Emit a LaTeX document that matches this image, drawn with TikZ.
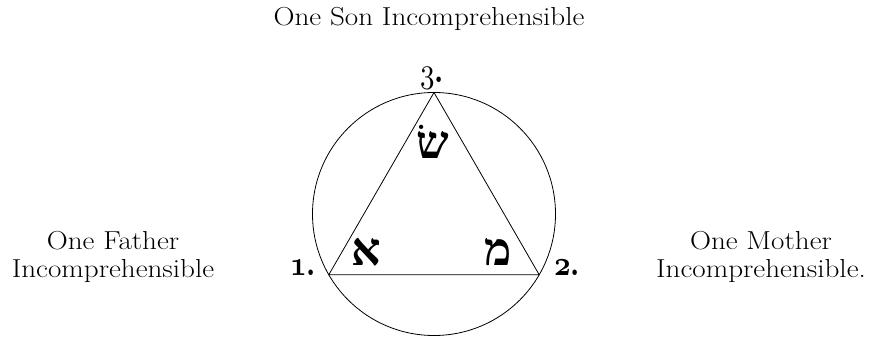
\documentclass[tikz,border=0pt]{standalone}
\usepackage{fontspec}
\usepackage{graphicx}
\newfontfamily\hebfont[Script=Hebrew]{Liberation Serif}
\TeXXeTstate=1
\newcommand{\wideline}[1]{\scalebox{1.12}[1]{#1}}
\newcommand{\osnum}[1]{\scalebox{2.9}[3.5]{{\usefont{OML}{cmm}{b}{it}#1}\textbf{.}}}
\newcommand{\osnumreg}[1]{\scalebox{2.9}[3.5]{{\usefont{OML}{cmm}{m}{it}#1}\textbf{.}}}
\begin{document}
\begin{tikzpicture}[x=1pt,y=-1pt,
  edge/.style={line width=0.8pt},
  caption/.style={font=\fontsize{26}{30}\selectfont, align=center, inner sep=0pt},
  num/.style={font=\fontsize{10}{10}\selectfont, inner sep=0pt},
  heb/.style={font=\fontsize{46}{46}\selectfont\hebfont\bfseries, inner sep=0pt}]
\useasboundingbox (0,0) rectangle (876,337);
\coordinate (c) at (434,214);
\coordinate (v3) at (434,92.5);
\coordinate (v1) at (328.8,274.75);
\coordinate (v2) at (539.2,274.75);
\draw[edge] (c) circle[radius=121.5];
\draw[edge] (v1) -- (v2) -- (v3) -- cycle;
\node[caption] (son) at (429,19) {\wideline{One Son Incomprehensible}};
\node[caption] (father) at (113,257) {\wideline{One Father}\\[-2pt]\wideline{Incomprehensible}};
\node[caption] (mother) at (761,257) {\wideline{One Mother}\\[-2pt]\wideline{Incomprehensible.}};
\node[num, anchor=base] (n3) at (432,82) {\osnumreg{3}};
\node[num, anchor=base] (n1) at (303,275) {\osnum{1}};
\node[num, anchor=base] (n2) at (567,275) {\osnum{2}};
\node[heb] (shin) at (433,142) {\beginR שׂ\endR};
\node[heb] (aleph) at (366,252) {\beginR א\endR};
\node[heb] (mem) at (498,252) {\beginR מ\endR};
\end{tikzpicture}
\end{document}
